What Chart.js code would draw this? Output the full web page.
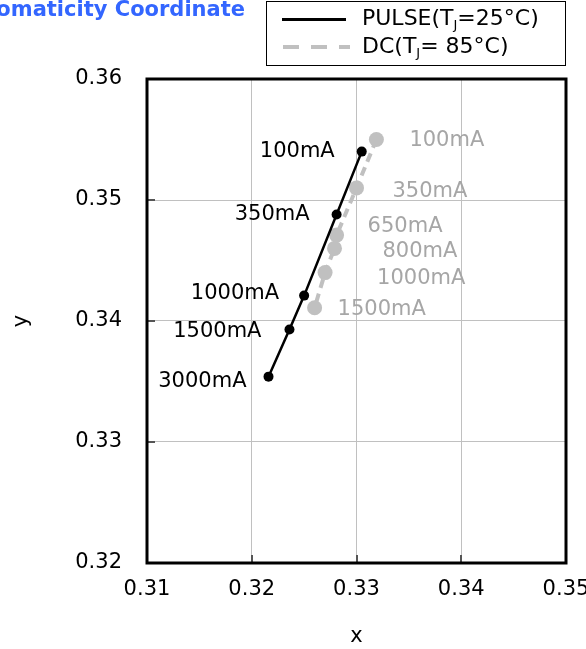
<!DOCTYPE html>
<html>
<head>
<meta charset="utf-8">
<script src="https://cdn.jsdelivr.net/npm/chart.js@4"></script>
<style>
  html, body { margin: 0; padding: 0; background: #fff; }
  #wrap { width: 586px; height: 649px; }
</style>
</head>
<body>
<div id="wrap"><canvas id="chart" width="586" height="649"></canvas></div>
<script>
// chromaticity data
const pulseCurrents = ['100mA', '350mA', '1000mA', '1500mA', '3000mA'];
const pulseX = [0.3305, 0.3281, 0.3250, 0.3236, 0.3216];
const pulseY = [0.3540, 0.3488, 0.3421, 0.3393, 0.3354];

const dcCurrents = ['100mA', '350mA', '650mA', '800mA', '1000mA', '1500mA'];
const dcX = [0.3319, 0.3300, 0.3281, 0.3279, 0.3270, 0.3260];
const dcY = [0.3550, 0.3510, 0.3471, 0.3460, 0.3440, 0.3411];

const xTicks = [0.31, 0.32, 0.33, 0.34, 0.35];
const yTicks = [0.32, 0.33, 0.34, 0.35, 0.36];

// label nudges (px) so the text sits like the original
const pulseLabelShift = [[-27, 0], [-27, 0], [-25, -2], [-28, 2], [-22, 5]];
const dcLabelShift = [[33, 1], [36, 4], [31, -9], [48, 3], [52, 6], [23, 2]];

const FONT = "'DejaVu Sans', Verdana, sans-serif";
const GRAY = '#c0c0c0';

const toPoints = (xs, ys) => xs.map((x, i) => ({ x: x, y: ys[i] }));

// frame, inner ticks, point labels, title and legend
const decorations = {
  id: 'decorations',
  beforeDatasetsDraw(chart) {
    const { ctx, chartArea: a, scales } = chart;
    ctx.save();
    ctx.strokeStyle = '#555';
    ctx.lineWidth = 2;
    yTicks.forEach((v) => {
      const py = Math.round(scales.y.getPixelForValue(v));
      ctx.beginPath(); ctx.moveTo(a.left, py); ctx.lineTo(a.left + 8, py); ctx.stroke();
    });
    xTicks.forEach((v) => {
      const px = Math.round(scales.x.getPixelForValue(v));
      ctx.beginPath(); ctx.moveTo(px, a.bottom); ctx.lineTo(px, a.bottom - 8); ctx.stroke();
    });
    ctx.strokeStyle = '#000';
    ctx.lineWidth = 3;
    ctx.strokeRect(a.left, a.top, a.right - a.left, a.bottom - a.top);
    ctx.restore();
  },
  afterDatasetsDraw(chart) {
    const { ctx } = chart;
    ctx.save();
    ctx.font = '21px ' + FONT;
    ctx.textBaseline = 'middle';

    ctx.fillStyle = '#000';
    ctx.textAlign = 'right';
    chart.getDatasetMeta(0).data.forEach((pt, i) => {
      const s = pulseLabelShift[i];
      ctx.fillText(pulseCurrents[i], pt.x + s[0], pt.y + s[1]);
    });

    ctx.fillStyle = '#a6a6a6';
    ctx.textAlign = 'left';
    chart.getDatasetMeta(1).data.forEach((pt, i) => {
      const s = dcLabelShift[i];
      ctx.fillText(dcCurrents[i], pt.x + s[0], pt.y + s[1]);
    });

    // title, cut off at the left edge like the original
    ctx.font = 'bold 21px ' + FONT;
    ctx.fillStyle = '#3366ff';
    ctx.textAlign = 'right';
    ctx.textBaseline = 'alphabetic';
    ctx.fillText('Chromaticity Coordinate', 245, 16);

    // legend
    ctx.strokeStyle = '#000';
    ctx.lineWidth = 1;
    ctx.strokeRect(266.5, 1.5, 299, 64);

    ctx.lineWidth = 3;
    ctx.beginPath(); ctx.moveTo(282, 19.5); ctx.lineTo(346, 19.5); ctx.stroke();
    ctx.strokeStyle = GRAY;
    ctx.lineWidth = 4;
    ctx.setLineDash([16, 12]);
    ctx.beginPath(); ctx.moveTo(283, 47); ctx.lineTo(350, 47); ctx.stroke();
    ctx.setLineDash([]);

    const legendText = (before, after, x, y) => {
      ctx.font = '22px ' + FONT;
      ctx.fillStyle = '#000';
      ctx.textAlign = 'left';
      ctx.textBaseline = 'middle';
      ctx.fillText(before, x, y);
      let w = ctx.measureText(before).width;
      ctx.font = '13px ' + FONT;
      ctx.fillText('J', x + w, y + 7);
      w += ctx.measureText('J').width;
      ctx.font = '22px ' + FONT;
      ctx.fillText(after, x + w, y);
    };
    legendText('PULSE(T', '=25°C)', 362, 19);
    legendText('DC(T', '= 85°C)', 362, 47);
    ctx.restore();
  }
};

new Chart(document.getElementById('chart'), {
  type: 'scatter',
  data: {
    datasets: [
      {
        label: 'PULSE(TJ=25°C)',
        data: toPoints(pulseX, pulseY),
        showLine: true,
        borderColor: '#000',
        backgroundColor: '#000',
        borderWidth: 2.5,
        pointRadius: 5,
        pointBorderWidth: 0,
        order: 0
      },
      {
        label: 'DC(TJ= 85°C)',
        data: toPoints(dcX, dcY),
        showLine: true,
        borderColor: GRAY,
        backgroundColor: GRAY,
        borderWidth: 4,
        borderDash: [9, 6],
        pointRadius: 7.5,
        pointBorderWidth: 0,
        order: 1
      }
    ]
  },
  plugins: [decorations],
  options: {
    responsive: false,
    animation: false,
    layout: { padding: { top: 79, right: 20, left: 0, bottom: 0 } },
    plugins: {
      legend: { display: false },
      tooltip: { enabled: false }
    },
    scales: {
      x: {
        type: 'linear',
        min: 0.31,
        max: 0.35,
        afterFit: (s) => { s.height = 86; s.paddingLeft = 0; s.paddingRight = 0; },
        afterBuildTicks: (s) => { s.ticks = xTicks.map((v) => ({ value: v })); },
        ticks: {
          color: '#000',
          font: { family: FONT, size: 21 },
          padding: 14,
          maxRotation: 0,
          callback: (v) => v.toFixed(2)
        },
        grid: { color: GRAY, lineWidth: 1, drawTicks: false },
        border: { display: false },
        title: { display: true, text: 'x', color: '#000', font: { family: FONT, size: 21 }, padding: { top: 0, bottom: 0 } }
      },
      y: {
        type: 'linear',
        min: 0.32,
        max: 0.36,
        afterFit: (s) => { s.width = 147; s.paddingTop = 0; s.paddingBottom = 0; },
        afterBuildTicks: (s) => { s.ticks = yTicks.map((v) => ({ value: v })); },
        ticks: {
          color: '#000',
          font: { family: FONT, size: 21 },
          padding: 25,
          callback: (v) => v.toFixed(2)
        },
        grid: { color: GRAY, lineWidth: 1, drawTicks: false },
        border: { display: false },
        title: { display: true, text: 'y', color: '#000', font: { family: FONT, size: 21 }, padding: { top: 9, bottom: 0 } }
      }
    }
  }
});
</script>
</body>
</html>
